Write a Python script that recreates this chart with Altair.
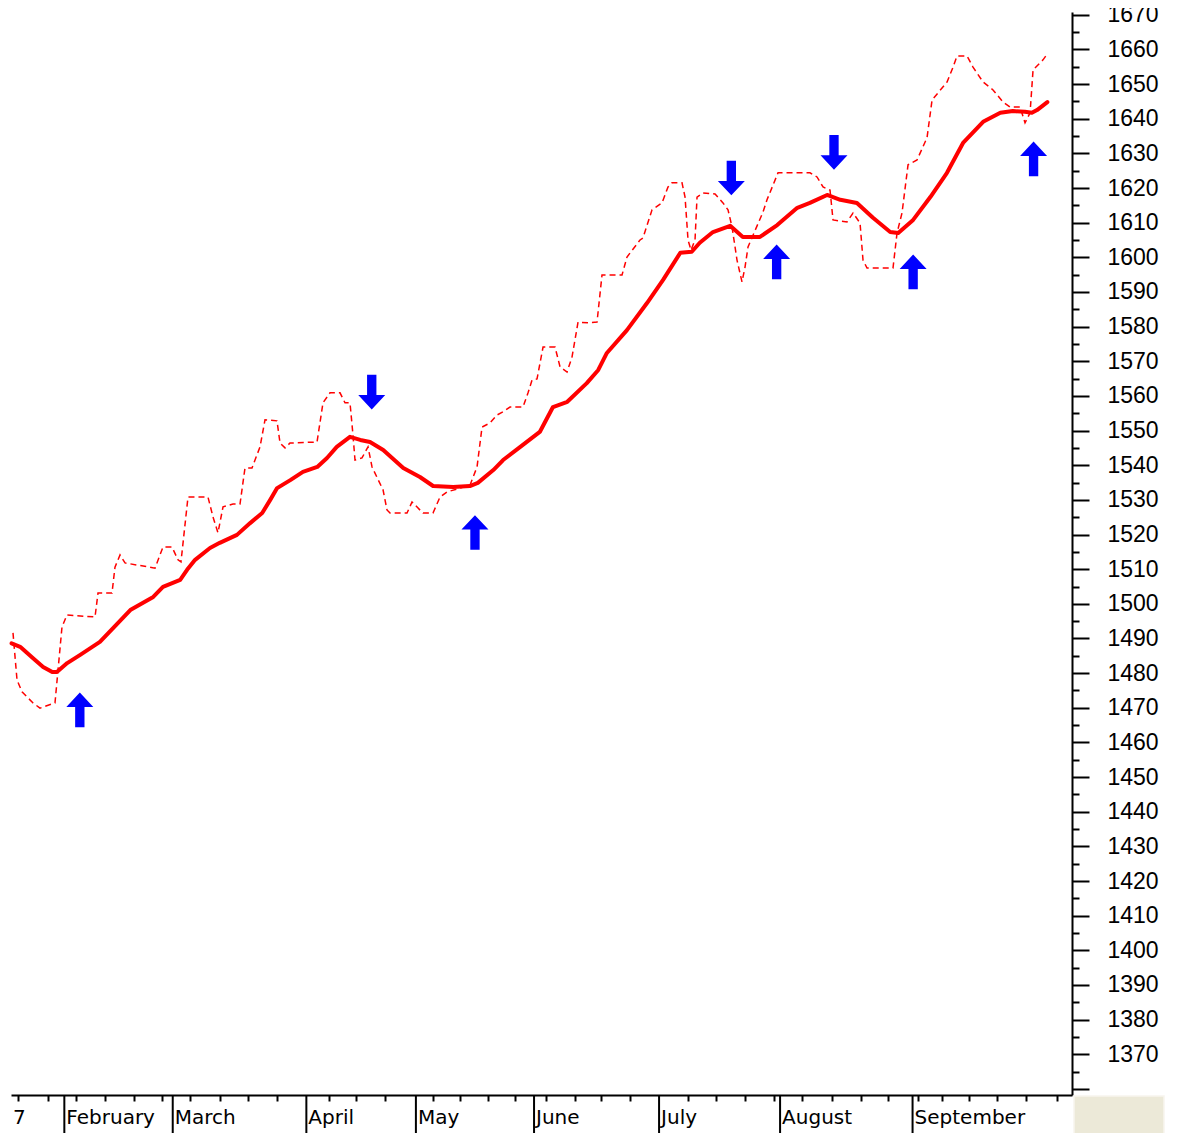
import altair as alt
import pandas as pd

# ---- data (t = trading-session index, v = index level) ----
solid_t = [0.1, 1.6, 3.8, 5.6, 7.2, 8.0, 9.8, 12.0, 15.5, 17.8,
           20.8, 24.8, 26.5, 29.5, 30.7, 32.1, 34.7, 36.4, 39.4, 41.7,
           43.8, 45.2, 46.4, 48.7, 50.9, 53.4, 55.1, 56.8, 59.1, 60.9,
           62.6, 64.9, 68.4, 71.3, 73.6, 77.1, 80.0, 81.4, 84.1, 85.8,
           88.8, 92.2, 94.5, 97.0, 100.4, 102.4, 103.9, 107.4, 110.9, 113.7,
           116.7, 118.7, 120.1, 122.4, 125.4, 127.6, 130.6, 133.6, 137.1, 139.3,
           142.3, 144.6, 147.5, 150.3, 153.3, 154.7, 157.3, 160.3, 163.2, 166.0,
           169.5, 172.5, 174.7, 176.8, 178.0, 178.9, 180.7]
solid_v = [1488.6, 1487.6, 1484.4, 1481.8, 1480.3, 1480.3, 1482.9, 1485.2, 1489.0, 1493.0,
           1498.2, 1502.0, 1504.9, 1506.9, 1509.8, 1512.7, 1516.1, 1517.6, 1519.9, 1523.3,
           1526.2, 1530.0, 1533.4, 1535.7, 1538.1, 1539.5, 1542.1, 1545.3, 1548.2, 1547.3,
           1546.7, 1544.4, 1539.2, 1536.6, 1534.0, 1533.7, 1534.0, 1534.9, 1538.6, 1541.5,
           1545.3, 1549.6, 1556.8, 1558.3, 1563.7, 1567.5, 1572.4, 1579.0, 1586.8, 1593.5,
           1601.3, 1601.6, 1604.2, 1607.3, 1609.1, 1605.9, 1605.9, 1609.3, 1614.3, 1615.7,
           1618.0, 1616.6, 1615.7, 1611.4, 1607.3, 1607.0, 1610.8, 1617.4, 1624.4, 1633.0,
           1639.1, 1641.7, 1642.2, 1642.0, 1641.7, 1642.5, 1644.8]

dash_t = [0.35, 1.05, 1.92, 3.84, 5.06, 7.67, 8.2, 8.89, 9.76, 14.65,
          15.17, 17.61, 18.13, 19.01, 19.88, 25.11, 26.5, 28.07, 29.12, 29.64,
          30.86, 34.35, 35.22, 36.09, 36.97, 38.71, 39.93, 40.8, 42.02, 43.42,
          44.29, 46.38, 46.91, 47.78, 48.65, 53.36, 54.4, 55.62, 57.37, 58.24,
          59.11, 59.63, 59.98, 61.2, 62.25, 62.95, 64.87, 65.56, 66.09, 69.05,
          69.92, 71.84, 73.58, 74.8, 76.03, 78.29, 80.04, 81.26, 82.13, 83.52,
          84.74, 85.79, 87.01, 89.28, 90.15, 90.85, 91.72, 92.77, 94.86, 95.73,
          96.95, 97.82, 98.87, 100.61, 102.18, 103.05, 106.54, 107.41, 109.68, 110.2,
          111.77, 113.51, 114.56, 115.26, 117.0, 117.53, 118.05, 118.57, 119.27, 119.62,
          120.67, 122.76, 124.15, 125.02, 125.72, 126.59, 127.46, 127.99, 128.51, 131.13,
          131.82, 133.74, 135.83, 139.32, 140.54, 141.59, 142.81, 143.33, 145.77, 146.82,
          148.04, 148.56, 149.26, 153.79, 154.49, 155.36, 156.41, 157.98, 159.72, 160.6,
          163.21, 164.26, 164.95, 166.7, 167.74, 169.49, 171.23, 172.98, 174.2, 175.94,
          176.81, 177.69, 178.21, 179.95, 180.82]
dash_v = [1491.6, 1478.0, 1474.6, 1471.4, 1469.9, 1471.4, 1480.9, 1493.3, 1496.8, 1496.2,
          1503.1, 1503.1, 1510.6, 1514.1, 1511.8, 1510.3, 1516.4, 1516.4, 1512.7, 1512.1,
          1530.8, 1530.8, 1525.1, 1520.5, 1528.0, 1528.8, 1528.8, 1539.2, 1539.2, 1545.3,
          1553.1, 1552.8, 1546.4, 1545.0, 1546.4, 1546.7, 1558.0, 1560.9, 1560.9, 1558.0,
          1558.0, 1548.7, 1541.5, 1542.1, 1545.3, 1539.5, 1532.9, 1527.1, 1526.2, 1526.2,
          1529.4, 1526.2, 1526.2, 1530.8, 1532.3, 1533.4, 1534.3, 1539.5, 1551.0, 1552.2,
          1554.5, 1555.4, 1556.8, 1556.8, 1560.9, 1564.6, 1564.9, 1574.1, 1574.1, 1568.4,
          1566.9, 1571.2, 1581.3, 1581.1, 1581.3, 1594.9, 1594.9, 1600.1, 1605.0, 1605.6,
          1613.7, 1615.7, 1620.3, 1621.5, 1621.5, 1617.4, 1605.0, 1602.1, 1605.0, 1617.4,
          1618.6, 1618.3, 1615.7, 1613.7, 1608.8, 1599.2, 1592.9, 1597.2, 1603.0, 1613.1,
          1616.6, 1624.4, 1624.4, 1624.4, 1623.2, 1620.3, 1619.4, 1610.8, 1610.2, 1612.8,
          1609.9, 1599.2, 1596.9, 1596.9, 1607.0, 1612.8, 1626.7, 1628.1, 1634.5, 1645.4,
          1650.6, 1654.9, 1658.1, 1658.1, 1654.9, 1650.6, 1648.3, 1644.8, 1643.4, 1643.4,
          1638.8, 1641.7, 1654.1, 1657.0, 1659.0]

up_t = [12.0, 80.9, 133.5, 157.3, 178.3]
up_v = [1469.4, 1520.6, 1598.7, 1595.8, 1628.4]
down_t = [62.9, 125.6, 143.5]
down_v = [1561.1, 1622.9, 1630.3]

month_names = ["February", "March", "April", "May", "June", "July", "August", "September"]
month_t = [9.3, 28.2, 51.5, 70.6, 91.2, 113.0, 134.1, 157.2]
first_label = "7"
first_label_t = 0.0
week_t = [1.3, 6.5, 11.3, 16.4, 21.5, 26.4, 31.2, 36.4, 41.3, 46.4,
          55.5, 60.2, 65.2, 73.5, 78.3, 83.2, 87.9, 93.3, 98.4, 102.9,
          107.9, 118.1, 122.9, 128.0, 133.1, 137.9, 143.2, 148.2, 152.9, 158.2,
          162.3, 167.0, 172.0, 177.0, 182.4]
y_ticks = list(range(1360, 1675, 5))

# ---- layout ----
W, H = 1061, 1083
x_domain = [0, 185]
y_domain = [1358.25, 1670.8]

df_solid = pd.DataFrame({"t": solid_t, "v": solid_v})
df_dash = pd.DataFrame({"t": dash_t, "v": dash_v})
df_up = pd.DataFrame({"t": up_t, "v": up_v})
df_down = pd.DataFrame({"t": down_t, "v": down_v})
df_months = pd.DataFrame({"t": month_t, "name": month_names})
df_labels = pd.DataFrame({"t": [first_label_t] + month_t, "name": [first_label] + month_names})

X = alt.X("t:Q", scale=alt.Scale(domain=x_domain, nice=False, zero=False),
          axis=alt.Axis(values=week_t, labels=False, tickSize=6, tickWidth=2,
                        tickColor="black", domainColor="black", domainWidth=2,
                        grid=False, title=None))
Y = alt.Y("v:Q", scale=alt.Scale(domain=y_domain, nice=False, zero=False),
          axis=alt.Axis(orient="right", values=y_ticks, format="d",
                        tickSize={"condition": {"test": "datum.value % 10 === 0", "value": 17}, "value": 7},
                        tickWidth=2, tickColor="black", domainColor="black", domainWidth=2,
                        labelExpr="datum.value % 10 === 0 && datum.value > 1360 ? datum.label : ''",
                        labelFont="Liberation Sans", labelFontSize=23, labelColor="black",
                        labelPadding=18, labelOverlap=False, labelFlush=False,
                        grid=False, title=None))

UP = "M0,-1L0.78,-0.17L0.27,-0.17L0.27,1L-0.27,1L-0.27,-0.17L-0.78,-0.17Z"
DOWN = "M0,1L0.78,0.17L0.27,0.17L0.27,-1L-0.27,-1L-0.27,0.17L-0.78,0.17Z"

dashed = alt.Chart(df_dash).mark_line(color="#ff0000", strokeWidth=1.5, strokeDash=[6, 4]).encode(x=X, y=Y)
solid = alt.Chart(df_solid).mark_line(color="#ff0000", strokeWidth=4, strokeJoin="round",
                                      strokeCap="round").encode(x=X, y=Y)
ups = alt.Chart(df_up).mark_point(shape=UP, filled=True, size=1197, color="#0000ff",
                                  opacity=1, strokeWidth=0).encode(x=X, y=Y)
downs = alt.Chart(df_down).mark_point(shape=DOWN, filled=True, size=1197, color="#0000ff",
                                      opacity=1, strokeWidth=0).encode(x=X, y=Y)
month_rules = alt.Chart(df_months).mark_rule(color="black", strokeWidth=2).encode(
    x=X, y=alt.value(H), y2=alt.value(H + 45))
month_text = alt.Chart(df_labels).mark_text(align="left", baseline="alphabetic", dx=2,
                                            font="DejaVu Sans", fontSize=20, color="black").encode(
    x=X, y=alt.value(H + 29), text="name:N")
corner = alt.Chart(pd.DataFrame({"k": [0]})).mark_rect(color="#ECE9D8", stroke="#F7F5EE",
                                                         strokeWidth=1.5).encode(
    x=alt.value(W + 2), x2=alt.value(W + 92), y=alt.value(H + 1), y2=alt.value(H + 45))

chart = alt.layer(corner, dashed, solid, ups, downs, month_rules, month_text).properties(
    width=W, height=H,
    autosize=alt.AutoSizeParams(type="none"),
    padding={"left": 3, "top": 4, "right": 99, "bottom": 38},
    background="white",
).configure_view(strokeWidth=0)

chart.save("out.html", embed_options={"renderer": "svg", "actions": False})
